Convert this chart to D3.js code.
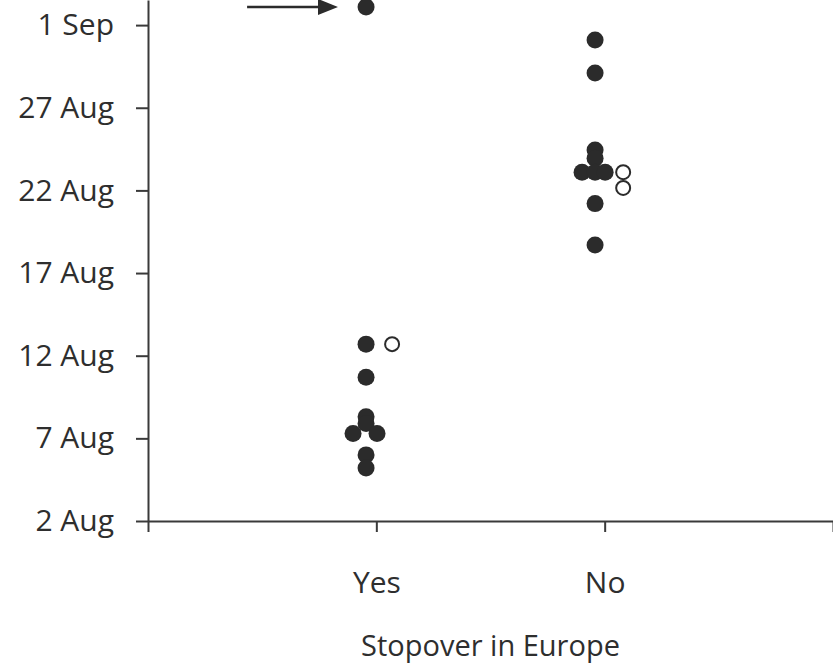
<!DOCTYPE html>
<html>
<head>
  <meta charset="utf-8">
  <title>Stopover in Europe</title>
  <script src="https://cdn.jsdelivr.net/npm/d3@7"></script>
  <style>
    body { margin: 0; background: #fff; }
    svg { display: block; }
    .axis path, .axis line { stroke: #3a3a3a; stroke-width: 2; }
    .axis text { font-family: "Open Sans", sans-serif; font-size: 30px; fill: #2e2e2e; }
    .title { font-family: "Open Sans", sans-serif; font-size: 29px; fill: #2e2e2e; }
  </style>
</head>
<body>
<svg width="833" height="665"></svg>
<script>

// day of August (32 = 1 Sep)
var categories = ["Yes", "No"];
var tickDays = [2, 7, 12, 17, 22, 27, 32];
var tickLabels = ["2 Aug", "7 Aug", "12 Aug", "17 Aug", "22 Aug", "27 Aug", "1 Sep"];

// filled = one group of birds, open = the other
var yesFilled = [33.1, 12.7, 10.7, 8.3, 7.9, 7.3, 7.3, 6.0, 5.2];
var yesFilledX = [0.955, 0.955, 0.955, 0.955, 0.955, 0.898, 1.003, 0.955, 0.955];
var yesOpen = [12.7];
var yesOpenX = [1.069];

var noFilled = [31.1, 29.1, 24.45, 23.95, 23.1, 23.1, 23.1, 21.2, 18.7];
var noFilledX = [1.958, 1.958, 1.958, 1.958, 1.901, 1.958, 2.002, 1.958, 1.958];
var noOpen = [23.1, 22.15];
var noOpenX = [2.081, 2.081];

// arrow pointing at the late bird
var arrowDay = 33.1, arrowFrom = 0.434, arrowTo = 0.832;

var svg = d3.select("svg"),
    margin = {top: 0, right: 0, bottom: 144, left: 148},
    width = +svg.attr("width") - margin.left - margin.right,
    height = +svg.attr("height") - margin.top - margin.bottom;

var x = d3.scaleLinear().domain([0, 3]).range([0, width]);
var y = d3.scaleLinear().domain([2, 2 + height / 16.53]).range([height, 0]);

var g = svg.append("g")
    .attr("transform", "translate(" + margin.left + "," + margin.top + ")");

g.append("g")
    .attr("class", "axis axis--x")
    .attr("transform", "translate(0," + height + ")")
    .call(d3.axisBottom(x)
      .tickValues([0, 1, 2, 3])
      .tickFormat(function(d) { return categories[d - 1] || ""; })
      .tickSize(11).tickSizeOuter(0).tickPadding(40));

g.append("g")
    .attr("class", "axis axis--y")
    .call(d3.axisLeft(y)
      .tickValues(tickDays)
      .tickFormat(function(d, i) { return tickLabels[i]; })
      .tickSize(12).tickSizeOuter(0).tickPadding(22));

g.append("text")
    .attr("class", "title")
    .attr("x", width / 2)
    .attr("y", height + 135)
    .attr("text-anchor", "middle")
    .text("Stopover in Europe");

var filled = yesFilled.map(function(d, i) { return {x: yesFilledX[i], y: d}; })
  .concat(noFilled.map(function(d, i) { return {x: noFilledX[i], y: d}; }));
var open = yesOpen.map(function(d, i) { return {x: yesOpenX[i], y: d}; })
  .concat(noOpen.map(function(d, i) { return {x: noOpenX[i], y: d}; }));

g.selectAll(".dot")
  .data(filled)
  .enter().append("circle")
    .attr("class", "dot")
    .attr("cx", function(d) { return x(d.x); })
    .attr("cy", function(d) { return y(d.y); })
    .attr("r", 8.5)
    .attr("fill", "#2b2b2b");

g.selectAll(".odot")
  .data(open)
  .enter().append("circle")
    .attr("class", "odot")
    .attr("cx", function(d) { return x(d.x); })
    .attr("cy", function(d) { return y(d.y); })
    .attr("r", 7)
    .attr("fill", "#fff")
    .attr("stroke", "#2b2b2b")
    .attr("stroke-width", 2);

var ay = y(arrowDay), ax0 = x(arrowFrom), ax1 = x(arrowTo);
g.append("line")
    .attr("x1", ax0).attr("x2", ax1 - 16)
    .attr("y1", ay).attr("y2", ay)
    .attr("stroke", "#2b2b2b")
    .attr("stroke-width", 2.5);
g.append("path")
    .attr("d", "M" + ax1 + "," + ay + "L" + (ax1 - 20) + "," + (ay - 8) + "L" + (ax1 - 20) + "," + (ay + 8) + "Z")
    .attr("fill", "#2b2b2b");

</script>
</body>
</html>
